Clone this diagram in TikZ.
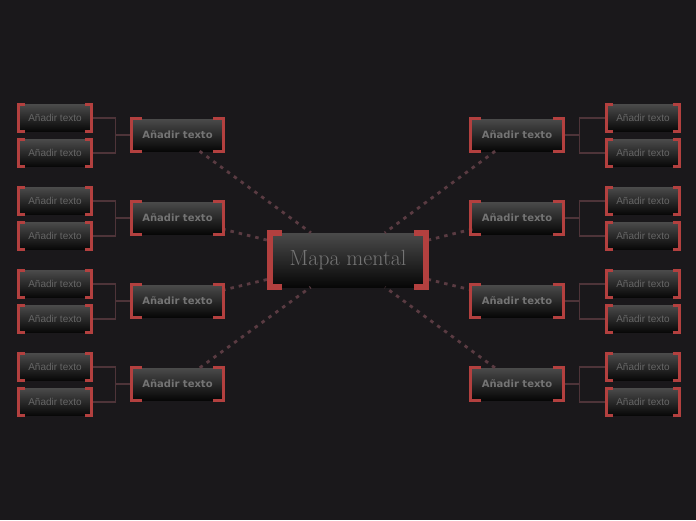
\documentclass[tikz,border=0pt]{standalone}
\usepackage{fontspec}
\usetikzlibrary{calc}
\definecolor{bg}{HTML}{1A181B}
\definecolor{brk}{HTML}{B3403F}
\definecolor{lnk}{HTML}{4E3439}
\definecolor{dsh}{HTML}{5A3B42}
\definecolor{txt}{HTML}{747474}
\definecolor{subtxt}{HTML}{666666}
\definecolor{boxtop}{HTML}{4A4A4A}
\definecolor{boxbot}{HTML}{070707}
\newfontfamily\topicfont{DejaVu Sans}
\newfontfamily\subfont{Liberation Sans}
\newcommand\mybrackets[4]{%
  \draw[bracket,line width=#2] ($(#1.north west)+(#3,0pt)$) -- ($(#1.north west)+(-#4,0pt)$) -- ($(#1.south west)+(-#4,0pt)$) -- ($(#1.south west)+(#3,0pt)$);
  \draw[bracket,line width=#2] ($(#1.north east)+(-#3,0pt)$) -- ($(#1.north east)+(#4,0pt)$) -- ($(#1.south east)+(#4,0pt)$) -- ($(#1.south east)+(-#3,0pt)$);
}
\begin{document}
\begin{tikzpicture}[x=1pt,y=-1pt,
  box/.style={rectangle, inner sep=0pt, top color=boxtop, bottom color=boxbot, draw=none, text=txt},
  centre/.style={box, minimum width=150pt, minimum height=54pt, font=\fontsize{22}{22}\selectfont},
  topic/.style={box, minimum width=89pt, minimum height=32pt, font=\topicfont\bfseries\fontsize{10}{10}\selectfont},
  subtopic/.style={box, minimum width=70pt, minimum height=27pt, text=subtxt, font=\subfont\fontsize{10}{10}\selectfont},
  dashlink/.style={draw=dsh, line width=2.8pt, dash pattern=on 3.5pt off 5pt},
  link/.style={draw=lnk, line width=1.3pt},
  bracket/.style={draw=brk, line join=miter}]
\fill[bg] (0,0) rectangle (696,520);
\useasboundingbox (0,0) rectangle (696,520);

\node[centre] (c) at (348,260) {Mapa mental};

\foreach \i/\y in {1/135,2/218,3/301,4/384}{
  \node[topic] (L\i) at (177.5,\y) {Añadir texto};
  \node[topic] (R\i) at (517,\y) {Añadir texto};
  \node[subtopic] (La\i) at (55,\y-17) {Añadir texto};
  \node[subtopic] (Lb\i) at (55,\y+18) {Añadir texto};
  \node[subtopic] (Ra\i) at (643,\y-17) {Añadir texto};
  \node[subtopic] (Rb\i) at (643,\y+18) {Añadir texto};
  \coordinate (Lj\i) at ($(L\i.west)+(-17pt,0pt)$);
  \coordinate (Rj\i) at ($(R\i.east)+(18pt,0pt)$);
}

\foreach \i in {1,2,3,4}{
  \draw[link] (L\i.west) -- (Lj\i);
  \draw[link] (Lj\i) |- (La\i.east);
  \draw[link] (Lj\i) |- (Lb\i.east);
  \draw[link] (R\i.east) -- (Rj\i);
  \draw[link] (Rj\i) |- (Ra\i.west);
  \draw[link] (Rj\i) |- (Rb\i.west);
  \draw[dashlink] (L\i) -- (c);
  \draw[dashlink] (R\i) -- (c);
}

\mybrackets{c}{6pt}{9pt}{3pt}
\foreach \i in {1,2,3,4}{
  \mybrackets{L\i}{3pt}{9pt}{1.5pt}
  \mybrackets{R\i}{3pt}{9pt}{1.5pt}
  \mybrackets{La\i}{3pt}{5pt}{1.5pt}
  \mybrackets{Lb\i}{3pt}{5pt}{1.5pt}
  \mybrackets{Ra\i}{3pt}{5pt}{1.5pt}
  \mybrackets{Rb\i}{3pt}{5pt}{1.5pt}
}
\end{tikzpicture}
\end{document}
